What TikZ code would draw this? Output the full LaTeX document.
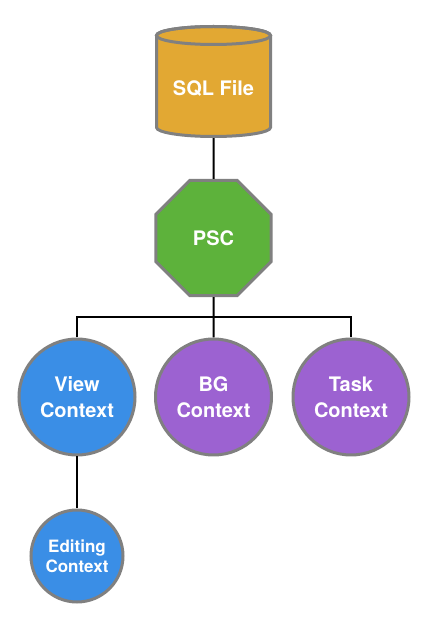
\documentclass[tikz,border=0pt]{standalone}
\usepackage{fontspec}
\setmainfont{TeX Gyre Heros}
\usetikzlibrary{shapes.geometric}
\definecolor{gold}{HTML}{E2A833}
\definecolor{pscgreen}{HTML}{5DB23B}
\definecolor{ctxblue}{HTML}{3A8EE6}
\definecolor{ctxpurple}{HTML}{9C62D1}
\definecolor{bordergray}{HTML}{808080}
\begin{document}
\begin{tikzpicture}[x=1pt,y=1pt,
  edgeline/.style={draw=bordergray,line width=3pt},
  lbl/.style={text=white,font=\bfseries\fontsize{20}{26}\selectfont,align=center},
  ctx/.style={circle,edgeline,inner sep=0pt,minimum size=116pt,lbl},
  conn/.style={draw=black,line width=2pt}]
\useasboundingbox[fill=white] (0,0) rectangle (428,622);
% SQL File cylinder
\node[minimum width=117pt,minimum height=113pt,inner sep=0pt] (sql) at (213.5,540.5) {};
\filldraw[fill=gold,edgeline] (156.5,586.5) -- (156.5,494.5)
  arc[start angle=180,end angle=360,x radius=57,y radius=9]
  -- (270.5,586.5)
  arc[start angle=0,end angle=180,x radius=57,y radius=9] -- cycle;
\draw[edgeline] (213.5,586.5) ellipse[x radius=57,y radius=9];
\node[lbl] (sqltext) at (213.5,534) {SQL File};
% PSC octagon
\node[regular polygon,regular polygon sides=8,minimum size=124.5pt,inner sep=0pt,
  edgeline,fill=pscgreen,lbl] (psc) at (213.5,384) {PSC};
% contexts
\node[ctx,fill=ctxblue] (view) at (77,225) {View\\Context};
\node[ctx,fill=ctxpurple] (bg) at (213.5,225) {BG\\Context};
\node[ctx,fill=ctxpurple] (task) at (351,225) {Task\\Context};
\node[circle,edgeline,inner sep=0pt,minimum size=92pt,fill=ctxblue,
  text=white,font=\bfseries\fontsize{17}{20}\selectfont,align=center] (edit) at (77,66) {Editing\\Context};
% connectors
\coordinate (bar) at (213.5,305);
\draw[conn] (sql.south) -- (psc.north);
\draw[conn] (psc.south) -- (bg.north);
\draw[conn] (view.north) |- (bar) -| (task.north);
\draw[conn] (view.south) -- (edit.north);
\end{tikzpicture}
\end{document}
